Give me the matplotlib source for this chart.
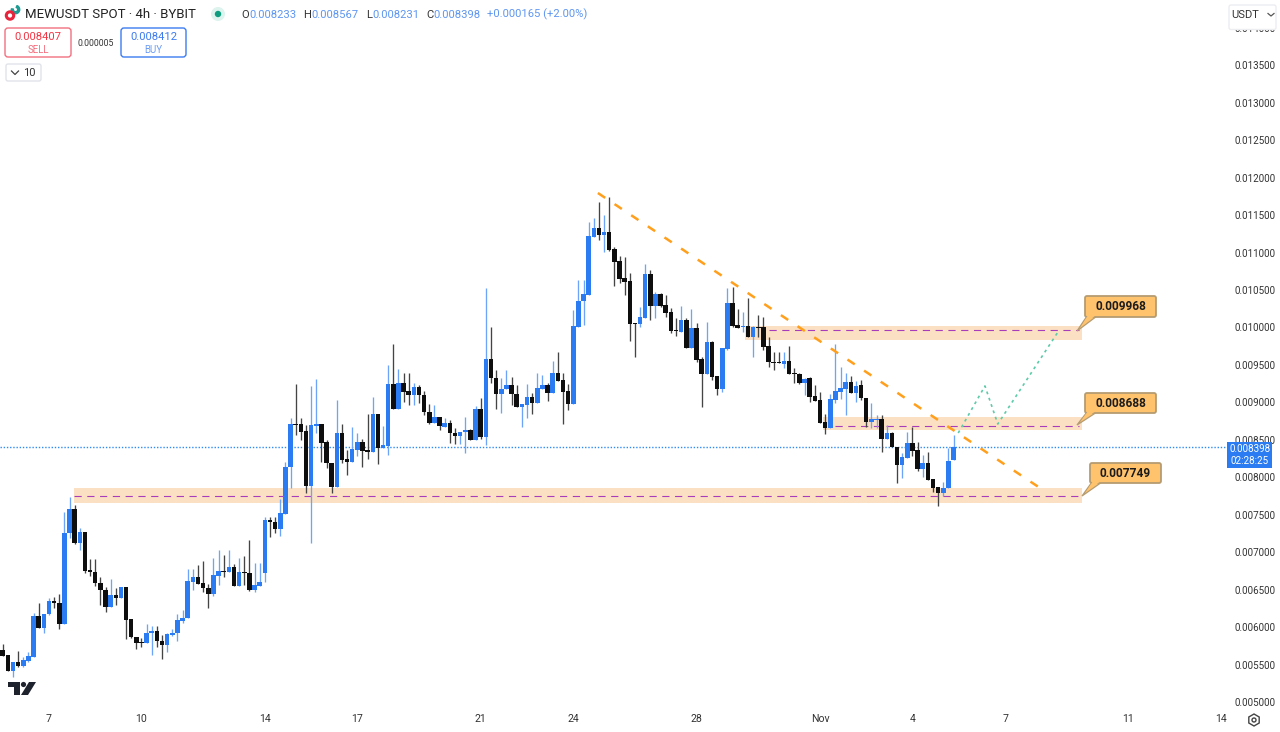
import numpy as np
import matplotlib
matplotlib.use("Agg")
import matplotlib.pyplot as plt
from matplotlib.patches import FancyBboxPatch, Polygon, Rectangle, Circle, Wedge, RegularPolygon

plt.rcParams['font.family'] = ['Roboto', 'DejaVu Sans']

# prices in millionths of USDT
opens = [5694,5627,5414,5534,5481,5547,5601,6148,5988,6175,
 6349,6322,6042,7256,7577,7123,7269,6762,6735,6589,
 6495,6269,6428,6388,6536,6108,5868,5801,5788,5921,
 5948,5814,5761,5895,5921,6081,6121,6602,6669,6589,
 6522,6442,6682,6749,6735,6803,6549,6735,6722,6495,
 6549,6722,7430,7403,7310,7510,8137,8711,8711,8618,
 7884,8684,8711,8471,8191,7871,8591,8244,8204,8364,
 8471,8364,8338,8845,8391,8418,9246,8912,9259,9152,
 9098,9205,9098,8871,8725,8805,8671,8725,8591,8551,
 8604,8631,8498,8912,8538,9579,9325,9112,9178,9232,
 9112,8938,8965,9072,8992,9178,9232,9125,9392,9299,
 9152,8978,10006,10353,10433,11208,11328,11235,11275,11048,
 10888,10661,10621,10060,10047,10127,10714,10287,10447,10300,
 10207,9966,9939,10100,9726,9993,9579,9379,9806,9352,
 9178,9713,10327,10033,10006,10020,9873,10006,10006,9753,
 9539,9539,9512,9552,9392,9379,9259,9325,9085,9032,
 8738,8658,9032,9139,9178,9272,9125,9232,9059,8738,
 8765,8778,8511,8591,8404,8164,8258,8458,8364,8111,
 8191,7977,7871,7790,7857,8233]
highs = [5774,5627,5534,5681,5601,5667,6188,6322,6175,6389,
 6402,6442,7536,7737,7630,7323,7269,6909,6909,6669,
 6536,6642,6522,6536,6536,6108,5868,5855,6042,6015,
 6015,5895,5921,5975,6175,6228,6776,6776,6829,6882,
 6576,6922,7029,6962,7029,6842,6922,6949,7163,6856,
 6856,7470,7470,7470,7710,8204,8791,9245,8792,8698,
 9219,9312,8711,8498,8191,9032,8711,8364,8671,8591,
 8511,8845,9072,8845,8684,9499,9780,9446,9392,9392,
 9259,9232,9152,8978,8965,8805,8792,8765,8658,8604,
 8805,8645,8952,9059,10527,10006,9432,9325,9432,9339,
 9232,8978,9246,9125,9392,9366,9259,9552,9673,9392,
 9246,10233,10634,10634,11408,11461,11675,11501,11742,11074,
 10954,10941,10727,10060,10273,10848,10767,10474,10460,10433,
 10260,10127,10287,10127,10247,10060,9606,10073,9820,9352,
 9726,10527,10541,10247,10207,10394,10020,10167,10140,9873,
 9673,9673,9673,9753,9459,9392,9325,9339,9232,9139,
 8845,9112,9780,9473,9392,9352,9285,9299,9059,8992,
 8832,8832,8698,8604,8404,8324,8604,8671,8471,8297,
 8338,7977,7871,7937,8391,8567]
lows = [5614,5414,5334,5467,5467,5534,5601,5988,5921,6161,
 6255,5975,6042,7189,7110,7029,6722,6682,6549,6295,
 6201,6269,6295,6388,5841,5855,5707,5734,5788,5628,
 5734,5574,5667,5881,5814,6055,6121,6495,6575,6468,
 6255,6415,6562,6669,6735,6549,6549,6562,6482,6468,
 6549,6602,7203,7256,7216,7510,7857,8564,8498,7790,
 7123,8591,8204,8124,7790,7871,8191,8031,8204,8284,
 8137,8244,8338,8178,8391,8297,8912,8912,9005,8965,
 8965,8992,8832,8711,8725,8631,8671,8458,8444,8444,
 8324,8498,8498,8511,8431,9259,8912,8858,9178,8965,
 8938,8671,8792,8845,8992,9178,9018,9125,9285,8711,
 8898,8978,10006,10033,10433,11208,11168,11008,11021,10554,
 10594,10433,9820,9606,10006,10127,10100,10127,10273,10140,
 9926,9886,9939,9726,9726,9539,8938,9379,9299,9098,
 9139,9699,10006,9993,9939,9873,9606,9873,9699,9472,
 9432,9526,9459,9379,9259,9245,9098,9005,9018,8725,
 8578,8658,8992,9045,8832,9125,9005,9032,8671,8658,
 8658,8338,8511,8404,7924,7991,8258,8284,8084,8004,
 7964,7804,7617,7750,7857,8231]
closes = [5614,5414,5534,5480,5561,5614,6148,5988,6175,6349,
 6322,6042,7256,7576,7123,7270,6749,6735,6589,6495,
 6269,6428,6388,6536,6095,5868,5788,5788,5921,5948,
 5814,5761,5908,5921,6095,6121,6615,6669,6575,6522,
 6442,6695,6749,6735,6802,6549,6735,6722,6495,6562,
 6602,7430,7403,7310,7523,8137,8711,8698,8604,7884,
 8698,8711,8458,8191,7871,8591,8231,8204,8378,8471,
 8351,8338,8845,8391,8431,9246,8912,9259,9139,9098,
 9205,9098,8871,8725,8805,8684,8725,8591,8551,8604,
 8631,8498,8912,8538,9579,9325,9112,9178,9232,9112,
 8938,8978,9072,8992,9192,9232,9125,9392,9285,9139,
 8978,10020,10353,10447,11221,11328,11235,11275,11034,10874,
 10647,10607,10047,10047,10140,10714,10287,10447,10287,10193,
 9953,9953,10100,9726,9993,9566,9379,9806,9339,9178,
 9726,10327,10020,9993,10020,9873,10006,9993,9739,9539,
 9526,9526,9552,9379,9379,9259,9312,9072,9018,8725,
 8658,9045,9152,9192,9272,9125,9219,9059,8738,8778,
 8778,8511,8591,8404,8164,8271,8458,8351,8111,8191,
 7964,7857,7790,7857,8217,8398]

date_ticks = [9, 27, 51, 69, 93, 111, 135, 159, 177, 195, 219, 237]
date_labels = ['7', '10', '14', '17', '21', '24', '28', 'Nov', '4', '7', '11', '14']
price_ticks = [5000 + 500 * k for k in range(19)]

# zones: (start bar, end bar, low, high, dashed start bar, dashed level)
zones = [(13.9, 210, 7657, 7857, 13.9, 7749),
         (159.5, 210, 8631, 8805, 162, 8688),
         (144.5, 210, 9830, 10020, 149, 9968)]
trend_x = [115.8, 202.4]
trend_y = [11795, 7830]
path_x = [185.9, 191.1, 193.6, 205.3]
path_y = [8591, 9219, 8711, 9939]
last_price = 8398

W, H = 1280, 732
PX_BAR, X0 = 5.14, 2.7
BLUE, BLACK = '#2B7CF2', '#0E0E0E'

fig = plt.figure(figsize=(12.8, 7.32), dpi=100, facecolor='white')
ax = fig.add_axes([0, 22 / H, 1228 / W, 710 / H])
ax.set_xlim((0 - X0) / PX_BAR, (1228 - X0) / PX_BAR)
ax.set_ylim(5000 + (702 - 710) * 13.35, 5000 + 702 * 13.35)
for s in ax.spines.values():
    s.set_visible(False)

o, h, l, c = map(np.array, (opens, highs, lows, closes))
assert len(o) == len(h) == len(l) == len(c) == 186
idx = np.arange(len(o))
up = c >= o
ax.vlines(idx[up], l[up], h[up], color='#6BA4F8', lw=0.95, zorder=3)
ax.vlines(idx[~up], l[~up], h[~up], color='#444444', lw=0.95, zorder=3)
bottoms = np.minimum(o, c)
heights = np.maximum(np.abs(c - o), 16)
ax.bar(idx[up], heights[up], bottom=bottoms[up], width=0.88, color=BLUE, zorder=4, linewidth=0)
ax.bar(idx[~up], heights[~up], bottom=bottoms[~up], width=0.88, color=BLACK, zorder=4, linewidth=0)

for x0, x1, lo, hi, dx, lev in zones:
    ax.add_patch(Rectangle((x0, lo), x1 - x0, hi - lo, facecolor='#FCE0C3', edgecolor='none', zorder=1))
    ax.plot([dx, x1 - 0.7], [lev, lev], color='#A83DBB', lw=0.8, dashes=(6.5, 5), zorder=2)

ax.axhline(last_price, color='#2F8BF0', lw=1.0, dashes=(1, 1.3), zorder=2)
ax.plot(trend_x, trend_y, color='#FF9F1C', lw=1.8, dashes=(3.5, 4.5), zorder=5)
ax.plot(path_x, path_y, color='#5CCBA9', lw=1.2, dashes=(1.7, 2.3), zorder=5)

ax.set_xticks(date_ticks)
ax.set_xticklabels(date_labels)
ax.set_yticks(price_ticks)
ax.set_yticklabels([f'{v / 1e6:.6f}' for v in price_ticks])
ax.yaxis.tick_right()
ax.tick_params(axis='x', length=0, pad=3, labelsize=7.6, labelcolor='#333333')
ax.tick_params(axis='y', length=0, pad=5, labelsize=7.1, labelcolor='#333333')

# interface overlay in pixel coordinates
ov = fig.add_axes([0, 0, 1, 1], zorder=10)
ov.set_xlim(0, W)
ov.set_ylim(H, 0)
ov.axis('off')

def box(x0, y0, x1, y1, fc, ec, lw=1.0, r=3):
    ov.add_patch(FancyBboxPatch((x0 + r, y0 + r), x1 - x0 - 2 * r, y1 - y0 - 2 * r,
                                boxstyle=f'round,pad={r},rounding_size={r}', fc=fc, ec=ec, lw=lw))

# logo
ov.add_patch(Wedge((15.5, 9.5), 4.2, -70, 190, width=2, color='#1E9C93'))
ov.add_patch(Circle((10, 15.5), 3.7, fc='white', ec='#E8243C', lw=2.2))
ov.text(25, 14.5, 'MEWUSDT SPOT · 4h · BYBIT', fontsize=9.5, color='#222222', va='center')
ov.add_patch(Circle((218, 14), 7, fc='#DDF3EE', ec='none'))
ov.add_patch(Circle((218, 14), 3.2, fc='#0F9D80', ec='none'))

blue_txt = '#5E96F0'
for lx, label, vx, val in [(241, 'O', 249, '0.008233'), (303, 'H', 311, '0.008567'),
                           (366, 'L', 372, '0.008231'), (426, 'C', 433, '0.008398')]:
    ov.text(lx, 14.5, label, fontsize=8.1, color='#333333', va='center')
    ov.text(vx, 14.5, val, fontsize=8.1, color=blue_txt, va='center')
ov.text(487, 14.5, '+0.000165 (+2.00%)', fontsize=8.1, color=blue_txt, va='center')

box(5, 28, 71, 57, 'white', '#F2707F')
ov.text(38, 37.5, '0.008407', fontsize=8.1, color='#F23645', ha='center', va='center')
ov.text(38, 50, 'SELL', fontsize=7, color='#F2707F', ha='center', va='center')
ov.text(96, 43.5, '0.000005', fontsize=6.2, color='#333333', ha='center', va='center')
box(121, 28, 186, 57, 'white', '#3D7CF0')
ov.text(153.5, 37.5, '0.008412', fontsize=8.1, color='#3D7CF0', ha='center', va='center')
ov.text(153.5, 50, 'BUY', fontsize=7, color='#6D9DF3', ha='center', va='center')
box(6, 64, 41, 81, 'white', '#E0E3EB', r=2)
ov.plot([11.5, 15, 18.5], [71, 74.5, 71], color='#444444', lw=0.9)
ov.text(29, 72.5, '10', fontsize=8, color='#333333', ha='center', va='center')

# price scale items
box(1229, 5, 1276, 29.5, 'white', '#ECEDF1', r=2)
ov.text(1245, 14.5, 'USDT', fontsize=8, color='#333333', ha='center', va='center')
ov.plot([1268, 1271, 1274], [13.5, 16, 13.5], color='#555555', lw=0.9)
ov.add_patch(Rectangle((1227, 442), 45, 26, fc='#2B7CF2', ec='none'))
ov.text(1250, 449, '0.008398', fontsize=7.1, color='white', ha='center', va='center')
ov.text(1250, 461, '02:28:25', fontsize=7.1, color='white', ha='center', va='center')

# callouts
for (x0, y0, x1, y1), (px, py), txt in [((1085, 296, 1156, 317), (1077, 331), '0.009968'),
                                        ((1085, 393, 1156, 413), (1077, 425), '0.008688'),
                                        ((1090, 463, 1161, 483), (1082, 496), '0.007749')]:
    ov.add_patch(Polygon([(x0 + 2, y1 - 1), (x0 + 12, y1 - 1), (px, py)], closed=True, fc='#FFC36E', ec='#B59C72', lw=0.9))
    box(x0, y0, x1, y1, '#FFC36E', '#B59C72', lw=1.3, r=2)
    ov.add_patch(Polygon([(x0 + 3, y1 - 2), (x0 + 11, y1 - 2), (px + 4, py - 4)], closed=True, fc='#FFC36E', ec='none'))
    ov.text((x0 + x1) / 2, (y0 + y1) / 2 + 0.3, txt, fontsize=8.6, fontweight='bold', color='#1C1C1C', ha='center', va='center')

# watermark
ov.add_patch(Polygon([(8, 682), (20, 682), (20, 695), (14, 695), (14, 687), (8, 687)], closed=True, fc='#1E222D', ec='none'))
ov.add_patch(Circle((23.5, 684.5), 2.6, fc='#1E222D', ec='none'))
ov.add_patch(Polygon([(29, 682), (36, 682), (28, 695), (21, 695)], closed=True, fc='#1E222D', ec='none'))

# settings icon
ov.add_patch(RegularPolygon((1254, 720), 6, radius=6, orientation=0, fc='white', ec='#444444', lw=1.0))
ov.add_patch(Circle((1254, 720), 2, fc='white', ec='#444444', lw=1.0))

fig.savefig('out.png', dpi=100)
